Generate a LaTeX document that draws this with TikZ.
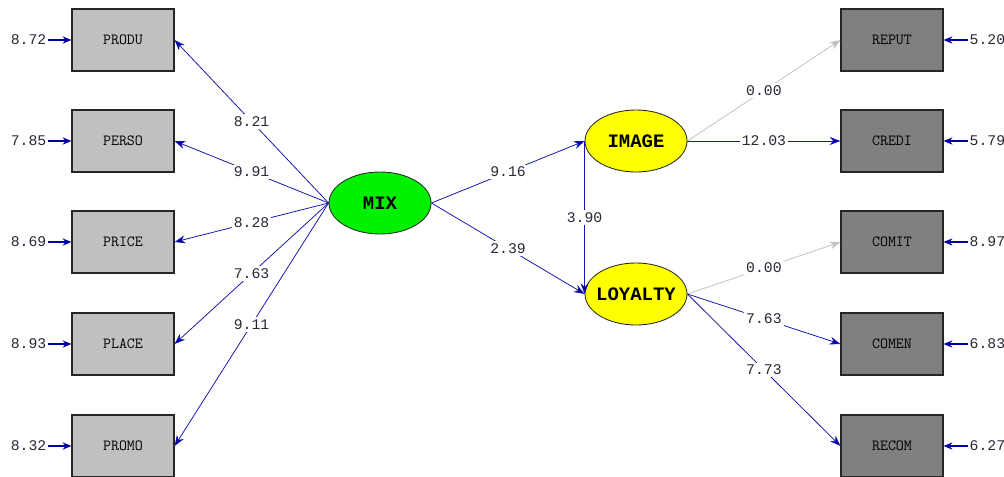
\documentclass[tikz,border=0pt]{standalone}
\usepackage{fontspec}
\newfontfamily\numfont{Liberation Mono}
\usetikzlibrary{arrows.meta,shapes.geometric}

\definecolor{lgray}{RGB}{192,192,192}
\definecolor{dgray}{RGB}{128,128,128}
\definecolor{pathblue}{RGB}{20,20,175}
\definecolor{tipblue}{RGB}{0,0,160}
\definecolor{mixgreen}{RGB}{0,240,0}
\definecolor{latyellow}{RGB}{255,255,0}
\definecolor{numink}{RGB}{40,40,55}

\begin{document}
\begin{tikzpicture}[x=0.025cm,y=-0.025cm]
    \tikzstyle{observed}=[draw=black!85,line width=0.8pt,minimum width=2.55cm,minimum height=1.55cm,inner sep=0pt,font=\ttfamily\fontsize{11}{11}\selectfont]
    \tikzstyle{x var}=[observed, fill=lgray];
    \tikzstyle{y var}=[observed, fill=dgray];
    \tikzstyle{latent}=[ellipse,draw=black!85,line width=0.6pt,minimum width=2.55cm,minimum height=1.55cm,inner sep=0pt,font=\numfont\bfseries\fontsize{13.5}{14}\selectfont]
    \tikzstyle{errlabel}=[inner sep=1pt,text=numink,font=\numfont\fontsize{10.5}{11}\selectfont]
    \tikzstyle{coefl}=[fill=white,inner sep=1.5pt,text=numink,font=\numfont\fontsize{10.5}{11}\selectfont]
    \tikzstyle{coef}=[draw=pathblue,line width=0.55pt,-{Stealth[length=0.27cm,width=0.2cm,fill=tipblue]}]
    \tikzstyle{fixed}=[draw=lgray,line width=0.55pt,-{Stealth[length=0.27cm,width=0.2cm,fill=lgray]}]
    \tikzstyle{errarrow}=[draw=tipblue,line width=1.1pt,-{Stealth[length=0.22cm,width=0.18cm]}]

    \useasboundingbox (0,0) rectangle (1004,476);

    % Latent variables (text kept inside the fixed ellipse)
    \node[latent, fill=mixgreen] (MIX) at (380,203) {\makebox[0pt]{MIX}};
    \node[latent, fill=latyellow] (IMAGE) at (636,141) {\makebox[0pt]{IMAGE}};
    \node[latent, fill=latyellow] (LOYALTY) at (636,294) {\makebox[0pt]{LOYALTY}};

    % Indicators of MIX with their error variances
    \foreach \name / \y / \err in {PRODU/40/8.72, PERSO/141/7.85, PRICE/242/8.69, PLACE/344/8.93, PROMO/446/8.32}
    {
        \node[x var] (\name) at (123,\y) {\name};
        \node[errlabel, anchor=east] (e-\name) at (48,\y) {\err};
        \draw[errarrow] (e-\name) -- (\name);
    }

    % Indicators of IMAGE and LOYALTY
    \foreach \name / \y / \err in {REPUT/40/5.20, CREDI/141/5.79, COMIT/242/8.97, COMEN/344/6.83, RECOM/446/6.27}
    {
        \node[y var] (\name) at (892,\y) {\name};
        \node[errlabel, anchor=west] (e-\name) at (968,\y) {\err};
        \draw[errarrow] (e-\name) -- (\name);
    }

    % Loadings of MIX
    \foreach \dest / \val in {PRODU/8.21, PERSO/9.91, PRICE/8.28, PLACE/7.63, PROMO/9.11}
        \draw[coef] (MIX.west) -- node[coefl] {\val} (\dest.east);

    % Structural paths
    \draw[coef] (MIX.east) -- node[coefl] {9.16} (IMAGE.west);
    \draw[coef] (MIX.east) -- node[coefl] {2.39} (LOYALTY.west);
    \draw[coef] (IMAGE.west) -- node[coefl] {3.90} (LOYALTY.west);

    % Loadings of IMAGE and LOYALTY
    \draw[fixed] (IMAGE.east) -- node[coefl] {0.00} (REPUT.west);
    \draw[coef] (IMAGE.east) -- node[coefl] {12.03} (CREDI.west);
    \draw[fixed] (LOYALTY.east) -- node[coefl] {0.00} (COMIT.west);
    \draw[coef] (LOYALTY.east) -- node[coefl] {7.63} (COMEN.west);
    \draw[coef] (LOYALTY.east) -- node[coefl] {7.73} (RECOM.west);
\end{tikzpicture}
\end{document}
